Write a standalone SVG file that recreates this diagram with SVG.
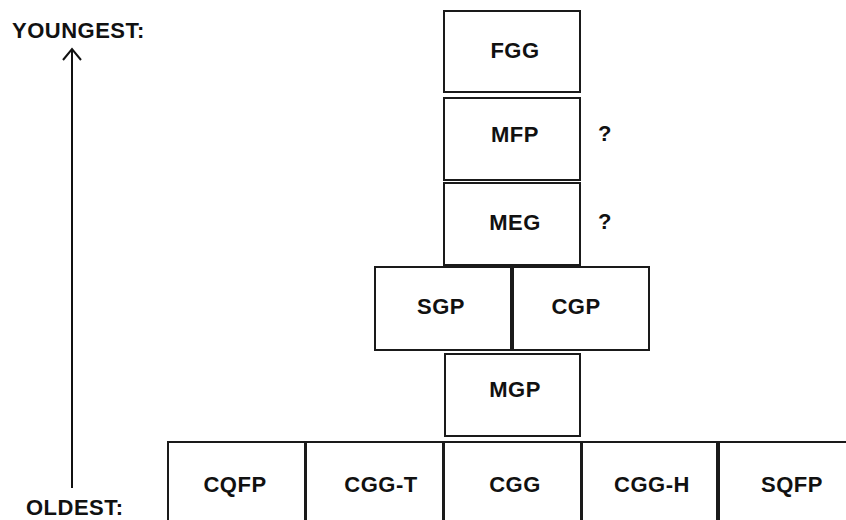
<svg xmlns="http://www.w3.org/2000/svg" width="846" height="520" viewBox="0 0 846 520">
<style>
.box{fill:#fff;stroke:#1a1a1a;stroke-width:2}
.t{font-family:"Liberation Sans",Arial,sans-serif;font-weight:bold;font-size:22px;letter-spacing:0.5px;fill:#111;text-anchor:middle}
.l{font-family:"Liberation Sans",Arial,sans-serif;font-weight:bold;font-size:22px;letter-spacing:0.5px;fill:#111}
.arr{fill:none;stroke:#111;stroke-width:2}
</style>
<rect width="846" height="520" fill="#fff"/>
<g id="axis">
<text class="l" x="12" y="38">YOUNGEST:</text>
<text class="l" x="26" y="515">OLDEST:</text>
</g>
<g id="connectors">
<line class="arr" x1="72" y1="488" x2="72" y2="49"/>
<polyline class="arr" points="63,60 72,49 81,60"/>
</g>
<g id="FGG"><rect class="box" x="444" y="11" width="136" height="81"/><text class="t" x="515" y="58">FGG</text></g>
<g id="MFP"><rect class="box" x="444" y="98" width="136" height="82"/><text class="t" x="515" y="142">MFP</text><text class="l" x="598" y="141">?</text></g>
<g id="MEG"><rect class="box" x="444" y="183" width="136" height="82"/><text class="t" x="515" y="230">MEG</text><text class="l" x="598" y="229">?</text></g>
<g id="SGP"><rect class="box" x="375" y="267" width="136" height="83"/><text class="t" x="441" y="314">SGP</text></g>
<g id="CGP"><rect class="box" x="513" y="267" width="136" height="83"/><text class="t" x="576" y="314">CGP</text></g>
<g id="MGP"><rect class="box" x="445" y="354" width="135" height="82"/><text class="t" x="515" y="397">MGP</text></g>
<g id="CQFP"><rect class="box" x="168" y="442" width="137" height="90"/><text class="t" x="235" y="492">CQFP</text></g>
<g id="CGG-T"><rect class="box" x="306" y="442" width="137" height="90"/><text class="t" x="381" y="492">CGG-T</text></g>
<g id="CGG"><rect class="box" x="444" y="442" width="137" height="90"/><text class="t" x="515" y="492">CGG</text></g>
<g id="CGG-H"><rect class="box" x="582" y="442" width="135" height="90"/><text class="t" x="652" y="492">CGG-H</text></g>
<g id="SQFP"><rect class="box" x="719" y="442" width="140" height="90"/><text class="t" x="792" y="492">SQFP</text></g>
</svg>
